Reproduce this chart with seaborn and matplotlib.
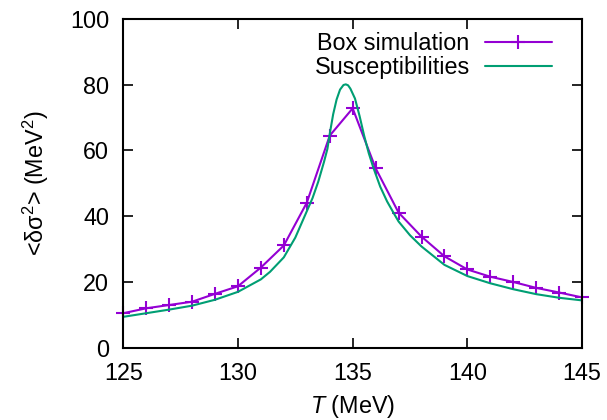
import pandas as pd
import seaborn as sns
import matplotlib.pyplot as plt

# Box simulation points
box_T = [125, 126, 127, 128, 129, 130, 131, 132, 133, 134, 135,
         136, 137, 138, 139, 140, 141, 142, 143, 144, 145]
box_val = [10.5, 12.0, 13.0, 14.0, 16.4, 18.7, 24.4, 31.1, 44.1, 64.5, 72.8,
           54.6, 41.1, 33.8, 27.8, 23.8, 21.6, 20.0, 18.2, 16.8, 15.3]

# Susceptibilities curve
sus_T = [125, 126, 127, 128, 129, 130, 131, 131.4, 132, 132.5, 133, 133.25,
         133.5, 133.75, 133.9, 134.0, 134.15, 134.3, 134.45, 134.6, 134.7,
         134.8, 134.9, 135.1, 135.3, 135.5, 135.7, 135.9, 136.2, 136.5,
         136.8, 137, 137.5, 138, 139, 140, 141, 142, 143, 144, 145]
sus_val = [9.4, 10.5, 11.6, 12.8, 14.6, 17.0, 20.8, 23.1, 27.5, 33.5, 41.5, 45.5,
           50.5, 56.5, 60.5, 65.0, 71.0, 75.5, 78.5, 79.9, 80.1,
           79.8, 78.8, 75.8, 70.5, 64.5, 59.2, 54.8, 49.0, 44.5,
           40.8, 38.4, 34.2, 30.8, 25.2, 21.8, 19.6, 17.8, 16.3, 15.2, 14.4]

box = pd.DataFrame({'T': box_T, 'val': box_val})
sus = pd.DataFrame({'T': sus_T, 'val': sus_val})

sns.set_style('ticks')
plt.rcParams['font.family'] = ['Liberation Sans', 'DejaVu Sans']
plt.rcParams['mathtext.fontset'] = 'custom'
plt.rcParams['mathtext.rm'] = 'Liberation Sans'
plt.rcParams['mathtext.it'] = 'Liberation Sans:italic'
plt.rcParams['text.color'] = 'black'
plt.rcParams['axes.labelcolor'] = 'black'
plt.rcParams['xtick.color'] = 'black'
plt.rcParams['ytick.color'] = 'black'
plt.rcParams['axes.edgecolor'] = 'black'
fs = 16.8

fig, ax = plt.subplots(figsize=(6.07, 4.2), dpi=100)
fig.subplots_adjust(left=0.203, right=0.959, top=0.955, bottom=0.172)

purple = '#9400D3'
green = '#009E73'
sns.lineplot(data=box, x='T', y='val', ax=ax, color=purple, lw=1.5,
             marker='+', markersize=10, markeredgewidth=1.5,
             markeredgecolor=purple, label='Box simulation', clip_on=False)
sns.lineplot(data=sus, x='T', y='val', ax=ax, color=green, lw=1.5,
             label='Susceptibilities')

ax.set_xlim(125, 145)
ax.set_ylim(0, 100)
ax.set_xticks([125, 130, 135, 140, 145])
ax.set_yticks([0, 20, 40, 60, 80, 100])
ax.tick_params(direction='in', length=7, width=1.2, top=True, right=True,
               labelsize=fs, pad=10)
for s in ax.spines.values():
    s.set_linewidth(1.5)
    s.set_visible(True)

ax.set_xlabel('$T$ (MeV)', fontsize=fs, labelpad=6)
ax.set_ylabel('<δσ$^2$> (MeV$^2$)', fontsize=fs, labelpad=14)

ax.legend(loc='upper right', bbox_to_anchor=(0.935, 0.96), frameon=False,
          markerfirst=False, fontsize=fs, handlelength=2.9,
          borderaxespad=0, borderpad=0, labelspacing=0.05,
          handletextpad=0.64)

plt.savefig('out.png')
